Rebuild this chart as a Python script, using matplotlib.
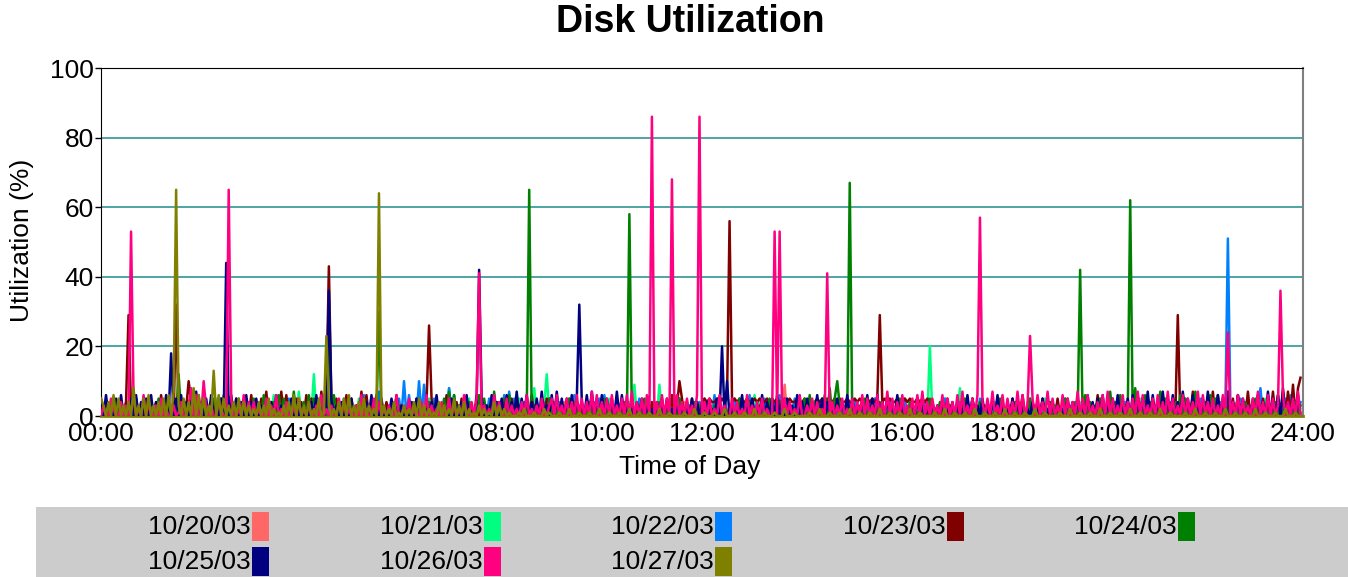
import numpy as np
import matplotlib.pyplot as plt
from matplotlib.patches import Rectangle

plt.rcParams['font.family'] = ['Liberation Sans', 'DejaVu Sans']

dates = ['10/20/03', '10/21/03', '10/22/03', '10/23/03',
         '10/24/03', '10/25/03', '10/26/03', '10/27/03']
colors = ['#ff6666', '#00ff80', '#0080ff', '#800000',
          '#008000', '#000080', '#ff0080', '#808000']
hour_ticks = ['00:00', '02:00', '04:00', '06:00', '08:00', '10:00', '12:00',
              '14:00', '16:00', '18:00', '20:00', '22:00', '24:00']
y_ticks = [0, 20, 40, 60, 80, 100]

# background utilisation (%), one digit per 3 minutes, one string per 3 hours
u_1020 = [
    "0102001030 2010300102 0031020100 2003104020 1002030105 0201003020",
    "1030201004 0020103002 0100203010 0402010030 2001030200 1040201003",
    "0201030020 1003020104 0020105020 1003002010 4020103001 0203010200",
    "1002040103 0020100302 0104020010 3002010403 0201002030 1004020100",
    "2010300204 0102003010 5020100302 0109020103 0020104020 1003020100",
    "0302010040 2010030201 0020103004 0201002030 1002040103 0020100301",
    "0102003010 4020100302 0102001030 2010400201 0030102002 0104020100",
    "3020100402 0103002010 2004010302 0010203001 0402010030 2010040201",
]
u_1021 = [
    "0203010402 0301500203 0104020301 0020301040 2030105020 0301040203",
    "0102030106 0203010407 0203080102 0301020403 0205010302 0601020301",
    "0203010204 0502030108 0203010502 0603010204 0301020503 0108020301",
    "0403020105 0302010403 0205030102 0409010203 0104020301 0502030104",
    "0203010502 0304010203 0605020103 0204030106 0203010402 0301050203",
    "0102030405 0201030204 0103020401 0302010503 0208040102 0301020403",
    "0203010402 0301020504 0102030201 0403020105 0302010403 0201050302",
    "0104020301 0205030102 0403010205 0301020403 0102050301 0204030102",
]
u_1022 = [
    "1020301020 4010203001 0203040102 0301020305 0102040301 0302010402",
    "0301020401 0302050102 0301040206 0301020503 0102060304 0702030105",
    "0806030709 0405030108 0603040102 0304050203 0607050304 0203010405",
    "0304020506 0301020405 0603010204 0302050103 0402010302 0501030204",
    "0502060304 0205030406 0301050204 0603020504 0301020403 0205010304",
    "0402010305 0201040203 0501020104 0302010503 0104020301 0502030104",
    "0103040201 0502010304 0201050302 0104030201 0305010204 0102040503",
    "0301020403 0102030405 0203010402 0301050203 0408020301 0205060304",
]
u_1023 = [
    "2030102030 4020503010 2040603020 5010204030 2010403050 2040502030",
    "6030507040 5070603050 4060503070 6040503060 5030706040 6050403060",
    "3020405030 4050203060 2040503020 6050302040 3020504030 4060203050",
    "3040205030 4020306030 2040503020 3050204030 4030504060 3050405040",
    "4545445454 5445454454 4545445454 5445454454 4545445454 5445454454",
    "4545445454 5445454454 4545445454 5440302050 3020403050 2040305030",
    "4020503060 2040305020 3050204030 5020403060 2050304020 4030605030",
    "3050604050 3060407050 3040706040 7050604070 3060504070 6080709080",
]
u_1024 = [
    "0102010302 0104020301 0205030102 0403010506 0402050306 0203050402",
    "0503060204 0605030702 0406050302 0506040305 0203040102 0301020403",
    "0102030201 0403020507 0603050402 0605030704 0506030201 0403020105",
    "0203010504 0102040301 0503020104 0201030502 0104020301 0502010403",
    "0104030502 0301050204 0103020501 0402030105 0506040306 0805030102",
    "0203050102 0401030205 0104020301 0502040103 0201050302 0403010205",
    "0102040301 0503010204 0302050104 0506040305 0207040603 0508030604",
    "0307050204 0605030702 0406050304 0201030402 0503010204 0302010403",
]
u_1025 = [
    "5060405060 3050604050 6040506030 5060405070 4050604050 3060504060",
    "4050302040 6030205040 3020406030 2050304020 5030204060 3040205030",
    "3020405030 2040603020 5030406020 4050306040 5060407050 6040507030",
    "6070504060 5040607050 6050407060 3020405030 2040305020 4030205040",
    "3040205030 4020306040 5030604050 6040503060 4050306050 4030504060",
    "5030406050 6040503060 3020405030 2040305020 4030206050 3050204060",
    "3020504030 2040305020 4030205040 5030604050 6040506030 5060405070",
    "6040705060 4070506040 5070406050 7040605030 5060407050 6070405060",
]
u_1026 = [
    "0300520040 3005020604 0030502003 0140038060 0520300420 0350020604",
    "0402005030 6020400305 0204003060 2030050402 0030602005 0402030060",
    "0305020040 6030204005 0302060040 5003020604 0050302040 6020305003",
    "5060305040 6050407060 4050603050 6070405060 3040605050 6040503060",
    "0405020603 0050402060 3040502006 0305040206 0030504020 6040305020",
    "5040605030 6040705040 6030506070 4050306050 4060703050 6040507030",
    "6050407060 3050604070 5030605040 7050603040 6070503060 4050706030",
    "5060407050 3060504070 6040503060 7040605030 5070406050 3060405070",
]
u_1027 = [
    "5304060503 0408030506 0304050607 0305040806 0503040605 0304050403",
    "0204030502 0103040605 0304020501 0302040506 0304050302 0103020401",
    "0302040503 0201040302 0503040201 0302010403 0201000102 0001000201",
    "0001000200 0100010002 0001000100 0200010001 0002000100 0001000200",
    "0100010002 0001000100 0200010001 0002000100 0001000200 0100010002",
    "0001000100 0200010001 0002000100 0001000200 0100010002 0001000100",
    "0200010001 0002000100 0001000200 0100010002 0001000100 0200010001",
    "0002000100 0001000200 0100010002 0001000100 0200010001 0002000100",
]

# peaks (time, %)
p_1020 = []
p_1021 = [('04:15', 12), ('08:54', 12), ('11:09', 9), ('16:33', 20)]
p_1022 = [('06:03', 10), ('06:21', 10), ('22:30', 51)]
p_1023 = [('00:33', 29), ('01:30', 32), ('01:45', 10), ('04:33', 43),
          ('06:33', 26), ('11:33', 10), ('12:33', 56), ('15:33', 29),
          ('21:30', 29), ('23:57', 11)]
p_1024 = [('01:33', 12), ('04:33', 31), ('05:33', 30), ('08:33', 65),
          ('10:33', 58), ('14:42', 10), ('14:57', 67), ('19:33', 42),
          ('20:33', 62)]
p_1025 = [('01:24', 18), ('02:30', 44), ('04:33', 36), ('07:33', 42),
          ('09:33', 32), ('12:24', 20), ('12:30', 10)]
p_1026 = [('00:36', 53), ('02:03', 10), ('02:33', 65), ('07:33', 41),
          ('11:00', 86), ('11:24', 68), ('11:57', 86), ('13:27', 53),
          ('13:33', 53), ('14:30', 41), ('17:33', 57), ('18:33', 23),
          ('22:30', 24), ('23:33', 36)]
p_1027 = [('01:30', 65), ('02:15', 13), ('04:30', 23), ('05:33', 64)]

base = [u_1020, u_1021, u_1022, u_1023, u_1024, u_1025, u_1026, u_1027]
peaks = [p_1020, p_1021, p_1022, p_1023, p_1024, p_1025, p_1026, p_1027]


def build(blocks, pk):
    pts = {}
    for b, s in enumerate(blocks):
        s = s.replace(' ', '')
        for j, c in enumerate(s):
            pts[b * 180 + 3 * j] = int(c)
    for hm, v in pk:
        h, m = hm.split(':')
        pts[int(h) * 60 + int(m)] = v
    t = sorted(pts)
    return np.array(t) / 60.0, np.array([pts[k] for k in t])


W, H = 1348, 577
fig = plt.figure(figsize=(W / 100, H / 100), dpi=100)
ax = fig.add_axes([101 / W, 1 - 416 / H, 1202 / W, 348 / H])

for blocks, pk, c in zip(base, peaks, colors):
    x, y = build(blocks, pk)
    ax.plot(x, y, color=c, lw=1.8, zorder=3)

ax.set_xlim(0, 24)
ax.set_ylim(0, 100)
ax.set_xticks(np.arange(0, 25, 2))
ax.set_xticklabels(hour_ticks, fontsize=19)
ax.set_yticks(y_ticks)
ax.set_yticklabels([str(v) for v in y_ticks], fontsize=19)
ax.tick_params(axis='x', length=0, pad=4)
ax.tick_params(axis='y', length=4, width=1, pad=1)
for v in y_ticks[1:-1]:
    ax.axhline(v, color='#2f9696', lw=1.2, zorder=1)

ax.spines['left'].set_color('black')
ax.spines['top'].set_color('black')
ax.spines['right'].set_color('#808080')
ax.spines['right'].set_linewidth(1.5)
ax.spines['bottom'].set_color('#808000')
ax.spines['bottom'].set_linewidth(2)

fig.text(690 / W, 1 - 22 / H, 'Disk Utilization', fontsize=27, fontweight='bold',
         ha='center', va='center')
fig.text(690 / W, 1 - 467 / H, 'Time of Day', fontsize=19, ha='center', va='center')
fig.text(22 / W, 1 - 240 / H, 'Utilization (%)', fontsize=19, rotation=90,
         ha='center', va='center')

# legend strip
fig.patches.append(Rectangle((36 / W, 0), 1 - 36 / W, 70 / H, transform=fig.transFigure,
                             facecolor='#cccccc', edgecolor='none', zorder=0))
for i, (d, c) in enumerate(zip(dates, colors)):
    col, row = i % 5, i // 5
    sx = 252 + col * 231.5
    sy = 512 + row * 35
    fig.patches.append(Rectangle((sx / W, 1 - (sy + 29) / H), 17 / W, 29 / H,
                                 transform=fig.transFigure, facecolor=c,
                                 edgecolor='none', zorder=1))
    fig.text((sx - 1) / W, 1 - (sy + 15) / H, d, fontsize=19, ha='right', va='center')

fig.savefig('out.png', dpi=100)
